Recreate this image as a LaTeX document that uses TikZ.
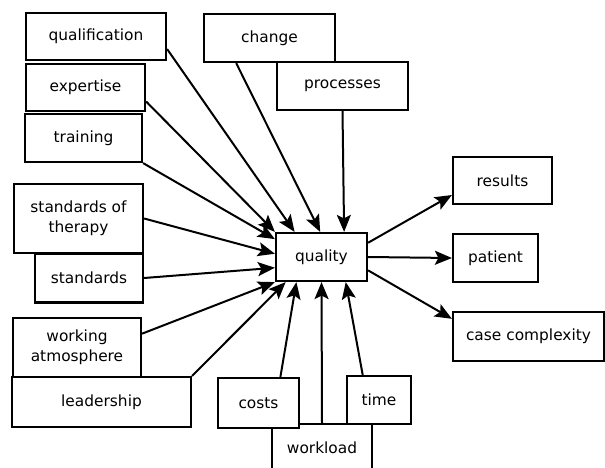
\documentclass[tikz,border=0pt]{standalone}
\usepackage{fontspec}
\setmainfont{DejaVu Sans}
\usetikzlibrary{arrows.meta}

\begin{document}
\begin{tikzpicture}[x=1pt, y=-1pt,
    box/.style={draw, fill=white, line width=2.2pt, inner sep=0pt, align=center,
      font=\fontsize{15.4}{20}\selectfont},
    arr/.style={line width=2pt, -{Stealth[length=17pt, width=14pt, inset=3.5pt]}}]
  \clip (0,0) rectangle (605,468);

  % left column
  \node[box, minimum width=140pt, minimum height=47pt] (qualification) at (96,36.5) {qualification};
  \node[box, minimum width=119pt, minimum height=47pt] (expertise) at (85.5,87.5) {expertise};
  \node[box, minimum width=117pt, minimum height=48pt] (training) at (83.5,138) {training};
  \node[box, minimum width=129pt, minimum height=69pt] (therapy) at (78.5,218.5) {standards of\\therapy};
  \node[box, minimum width=108pt, minimum height=49pt] (standards) at (89,278) {standards};
  \node[box, minimum width=128pt, minimum height=59pt] (atmosphere) at (77,347.5) {working\\atmosphere};
  \node[box, minimum width=179pt, minimum height=50pt] (leadership) at (101.5,402) {leadership};

  % top
  \node[box, minimum width=131pt, minimum height=48pt] (change) at (269.5,38) {change};
  \node[box, minimum width=131pt, minimum height=48pt] (processes) at (342.5,86) {processes};

  % bottom
  \node[box, minimum width=100pt, minimum height=48pt] (workload) at (322,448) {workload};
  \node[box, minimum width=81pt, minimum height=50pt] (costs) at (258.5,403) {costs};
  \node[box, minimum width=64pt, minimum height=48pt] (time) at (379,400) {time};

  % centre and right
  \node[box, minimum width=91pt, minimum height=48pt] (quality) at (321.5,257) {quality};
  \node[box, minimum width=99pt, minimum height=47pt] (results) at (502.5,180.5) {results};
  \node[box, minimum width=85pt, minimum height=48pt] (patient) at (495.5,258) {patient};
  \node[box, minimum width=151pt, minimum height=49pt] (complexity) at (528.5,336.5) {case complexity};

  \draw[arr] (qualification.-10.9) -- (quality.137.8);
  \draw[arr] (expertise.-13.7) -- (quality.north west);
  \draw[arr] (training.south east) -- (quality.159.5);
  \draw[arr] (change.217.3) -- (quality.93.6);
  \draw[arr] (processes.south) -- (quality.48.1);
  \draw[arr] (therapy.east) -- (quality.176.2);
  \draw[arr] (standards.east) -- (quality.193.6);
  \draw[arr] (atmosphere.12.8) -- (quality.south west);
  \draw[arr] (leadership.north east) -- (quality.215.6);
  \draw[arr] (costs.50.6) -- (quality.225.6);
  \draw[arr] (workload.north) -- (quality.south);
  \draw[arr] (time.123.7) -- (quality.314.4);

  \draw[arr] (quality.17.1) -- (results.196.3);
  \draw[arr] (quality.east) -- (patient.west);
  \draw[arr] (quality.-16) -- (complexity.167.7);
\end{tikzpicture}
\end{document}
